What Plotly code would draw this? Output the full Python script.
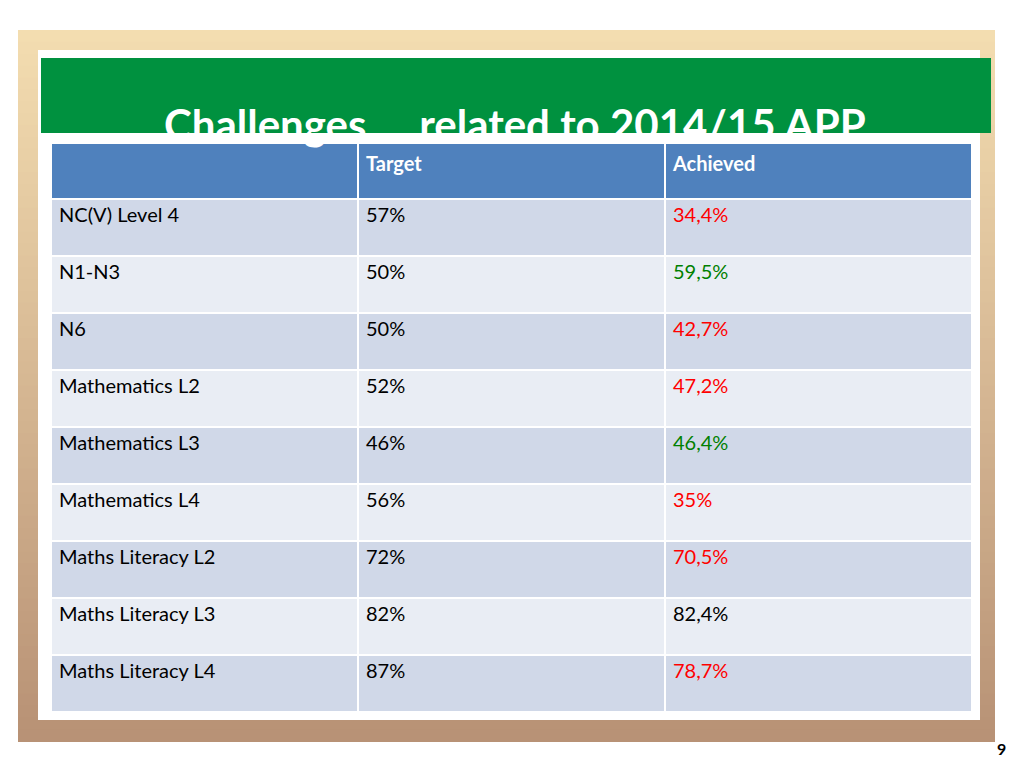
import plotly.graph_objects as go

categories = ["NC(V) Level 4", "N1-N3", "N6", "Mathematics L2", "Mathematics L3",
              "Mathematics L4", "Maths Literacy L2", "Maths Literacy L3", "Maths Literacy L4"]
target = ["57%", "50%", "50%", "52%", "46%", "56%", "72%", "82%", "87%"]
achieved = ["34,4%", "59,5%", "42,7%", "47,2%", "46,4%", "35%", "70,5%", "82,4%", "78,7%"]
achieved_colors = ["#FF0000", "#008000", "#FF0000", "#FF0000", "#008000",
                   "#FF0000", "#FF0000", "#000000", "#FF0000"]
headers = ["", "Target", "Achieved"]

W, H = 1024, 768
FONT = "Lato, Open Sans, sans-serif"
row_fill = ["#D0D8E8" if i % 2 == 0 else "#E9EDF4" for i in range(len(categories))]

fig = go.Figure(go.Table(
    domain=dict(x=[43 / W, 964 / W], y=[1 - 712 / H, 1 - 135 / H]),
    columnwidth=[1, 1, 1],
    header=dict(values=[f"<b>{h}</b>" for h in headers], fill_color="#4F81BD",
                line=dict(color="white", width=2), align="left", height=56,
                font=dict(color="white", size=20, family=FONT)),
    cells=dict(values=[categories, target, achieved],
               fill_color=[row_fill] * 3, line=dict(color="white", width=2),
               align="left", height=57,
               font=dict(color=[["#000000"] * 9, ["#000000"] * 9, achieved_colors],
                         size=20, family=FONT)),
))

shapes = []
top = (243, 221, 176)
bot = (184, 146, 118)
n = 60
y0, y1 = 22, 733
for i in range(n):
    t = i / (n - 1)
    c = tuple(int(top[k] + (bot[k] - top[k]) * t) for k in range(3))
    ya = y0 + (y1 - y0) * i / n
    yb = y0 + (y1 - y0) * (i + 1) / n + 1
    shapes.append(dict(type="rect", xref="paper", yref="paper", x0=10 / W, x1=987 / W,
                       y0=1 - yb / H, y1=1 - ya / H, line=dict(width=0),
                       fillcolor=f"rgb{c}", layer="below"))
shapes.append(dict(type="rect", xref="paper", yref="paper", x0=30 / W, x1=972 / W,
                   y0=1 - 712 / H, y1=1 - 42 / H, line=dict(width=0),
                   fillcolor="white", layer="below"))
shapes.append(dict(type="rect", xref="paper", yref="paper", x0=33 / W, x1=983 / W,
                   y0=1 - 125 / H, y1=1 - 50 / H, line=dict(width=0),
                   fillcolor="#00913F", layer="below"))

fig.update_layout(
    width=W, height=H, margin=dict(l=0, r=0, t=0, b=0),
    paper_bgcolor="white", plot_bgcolor="white", shapes=shapes,
    xaxis=dict(visible=False), yaxis=dict(visible=False),
    annotations=[
        dict(text="<b>Challenges … related to 2014/15 APP</b>", xref="paper", yref="paper",
             x=507 / W, y=1 - 89 / H, showarrow=False,
             font=dict(size=42, color="white", family=FONT)),
        dict(text="<b>9</b>", xref="paper", yref="paper", x=1000 / W, y=1 - 752 / H,
             showarrow=False, font=dict(size=16, color="black", family=FONT)),
    ],
)
fig.write_html("out.html")
